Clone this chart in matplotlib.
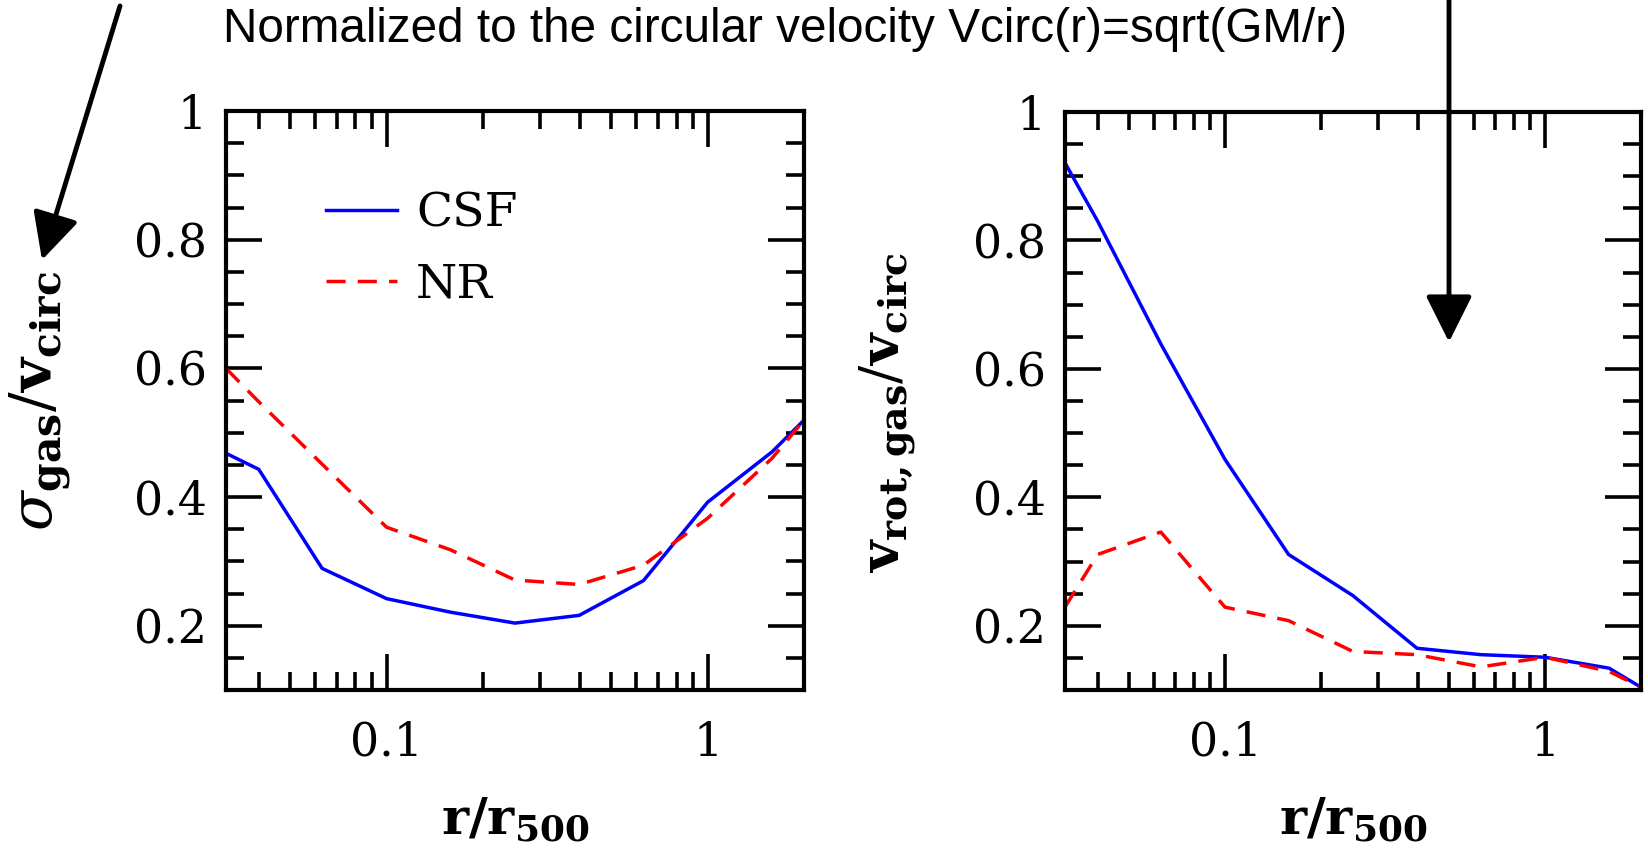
import numpy as np
import matplotlib
matplotlib.use("Agg")
import matplotlib.pyplot as plt
from matplotlib.patches import FancyArrowPatch
from matplotlib.ticker import MultipleLocator, LogLocator, NullFormatter, FixedLocator, FixedFormatter

# radial bins (r/r500), 0.2 dex apart, from the left edge to the right edge
r = [0.0316, 0.04, 0.063, 0.1, 0.158, 0.251, 0.398, 0.631, 1.0, 1.585, 2.0]

# left panel: sigma_gas / v_circ
sig_csf = [0.468, 0.443, 0.289, 0.242, 0.221, 0.204, 0.216, 0.270, 0.392, 0.470, 0.520]
sig_nr  = [0.600, 0.548, 0.451, 0.353, 0.318, 0.271, 0.264, 0.294, 0.367, 0.460, 0.520]

# right panel: v_rot,gas / v_circ
rot_csf = [0.921, 0.830, 0.639, 0.459, 0.311, 0.247, 0.165, 0.155, 0.151, 0.134, 0.104]
rot_nr  = [0.229, 0.311, 0.346, 0.229, 0.208, 0.160, 0.155, 0.136, 0.151, 0.129, 0.104]

yticks = [0.2, 0.4, 0.6, 0.8, 1.0]
ytick_labels = ["0.2", "0.4", "0.6", "0.8", "1"]
xticks = [0.1, 1]
xtick_labels = ["0.1", "1"]

plt.rcParams['mathtext.fontset'] = 'dejavuserif'
plt.rcParams['font.family'] = 'DejaVu Serif'

fig = plt.figure(figsize=(16.49, 8.52), dpi=100)
ax1 = fig.add_axes([226/1649, 1 - 690/852, 578/1649, 579/852])
ax2 = fig.add_axes([1065/1649, 1 - 690/852, 576/1649, 578/852])

def estilo(ax):
    ax.set_xscale('log')
    ax.set_xlim(10**-1.5, 10**0.3)
    ax.set_ylim(0.1, 1.0)
    ax.xaxis.set_major_locator(FixedLocator(xticks))
    ax.xaxis.set_major_formatter(FixedFormatter(xtick_labels))
    ax.xaxis.set_minor_locator(LogLocator(base=10, subs=np.arange(2, 10), numticks=20))
    ax.xaxis.set_minor_formatter(NullFormatter())
    ax.yaxis.set_major_locator(FixedLocator(yticks))
    ax.yaxis.set_major_formatter(FixedFormatter(ytick_labels))
    ax.yaxis.set_minor_locator(MultipleLocator(0.05))
    ax.tick_params(which='both', direction='in', top=True, right=True, width=2.6, labelsize=33)
    ax.tick_params(which='major', length=26)
    ax.tick_params(which='minor', length=13)
    ax.tick_params(axis='x', pad=22)
    ax.tick_params(axis='y', pad=14)
    for s in ax.spines.values():
        s.set_linewidth(3)
    ax.set_xlabel(r'$\mathbf{r/r}_{\mathbf{500}}$', fontsize=37, labelpad=22)

estilo(ax1)
ax1.plot(r, sig_csf, color='#0000ff', lw=2.5, label='CSF')
ax1.plot(r, sig_nr, color='#ff0000', lw=2.5, ls=(0, (5.5, 3.5)), label='NR')
ax1.set_ylabel(r'$\sigma_{\mathbf{gas}}/\mathbf{v}_{\mathbf{circ}}$', fontsize=42)
ax1.yaxis.set_label_coords(-0.265, 0.5)
ax1.legend(loc='upper left', bbox_to_anchor=(0.1, 0.935), frameon=False, fontsize=34,
           handlelength=1.5, handletextpad=0.4, labelspacing=0.55)

estilo(ax2)
ax2.plot(r, rot_csf, color='#0000ff', lw=2.5)
ax2.plot(r, rot_nr, color='#ff0000', lw=2.5, ls=(0, (5.5, 3.5)))
ax2.set_ylabel(r'$\mathbf{v}_{\mathbf{rot,gas}}/\mathbf{v}_{\mathbf{circ}}$', fontsize=39)
ax2.yaxis.set_label_coords(-0.255, 0.48)

# annotation on top
fig.text(223/1649, 1 - 42/852, "Normalized to the circular velocity Vcirc(r)=sqrt(GM/r)",
         family='Liberation Sans', fontsize=34.3, ha='left', va='baseline')

seta = dict(arrowstyle='-|>,head_length=1.1,head_width=0.55', color='black', lw=3.5,
            mutation_scale=26, shrinkA=0, shrinkB=0)
fig.patches.append(FancyArrowPatch((120/1649, 1 - 6/852), (42/1649, 1 - 260/852),
                   transform=fig.transFigure, **seta))
fig.patches.append(FancyArrowPatch((1449/1649, 1.0), (1449/1649, 1 - 342/852),
                   transform=fig.transFigure, **seta))

fig.savefig("out.png", dpi=100)
